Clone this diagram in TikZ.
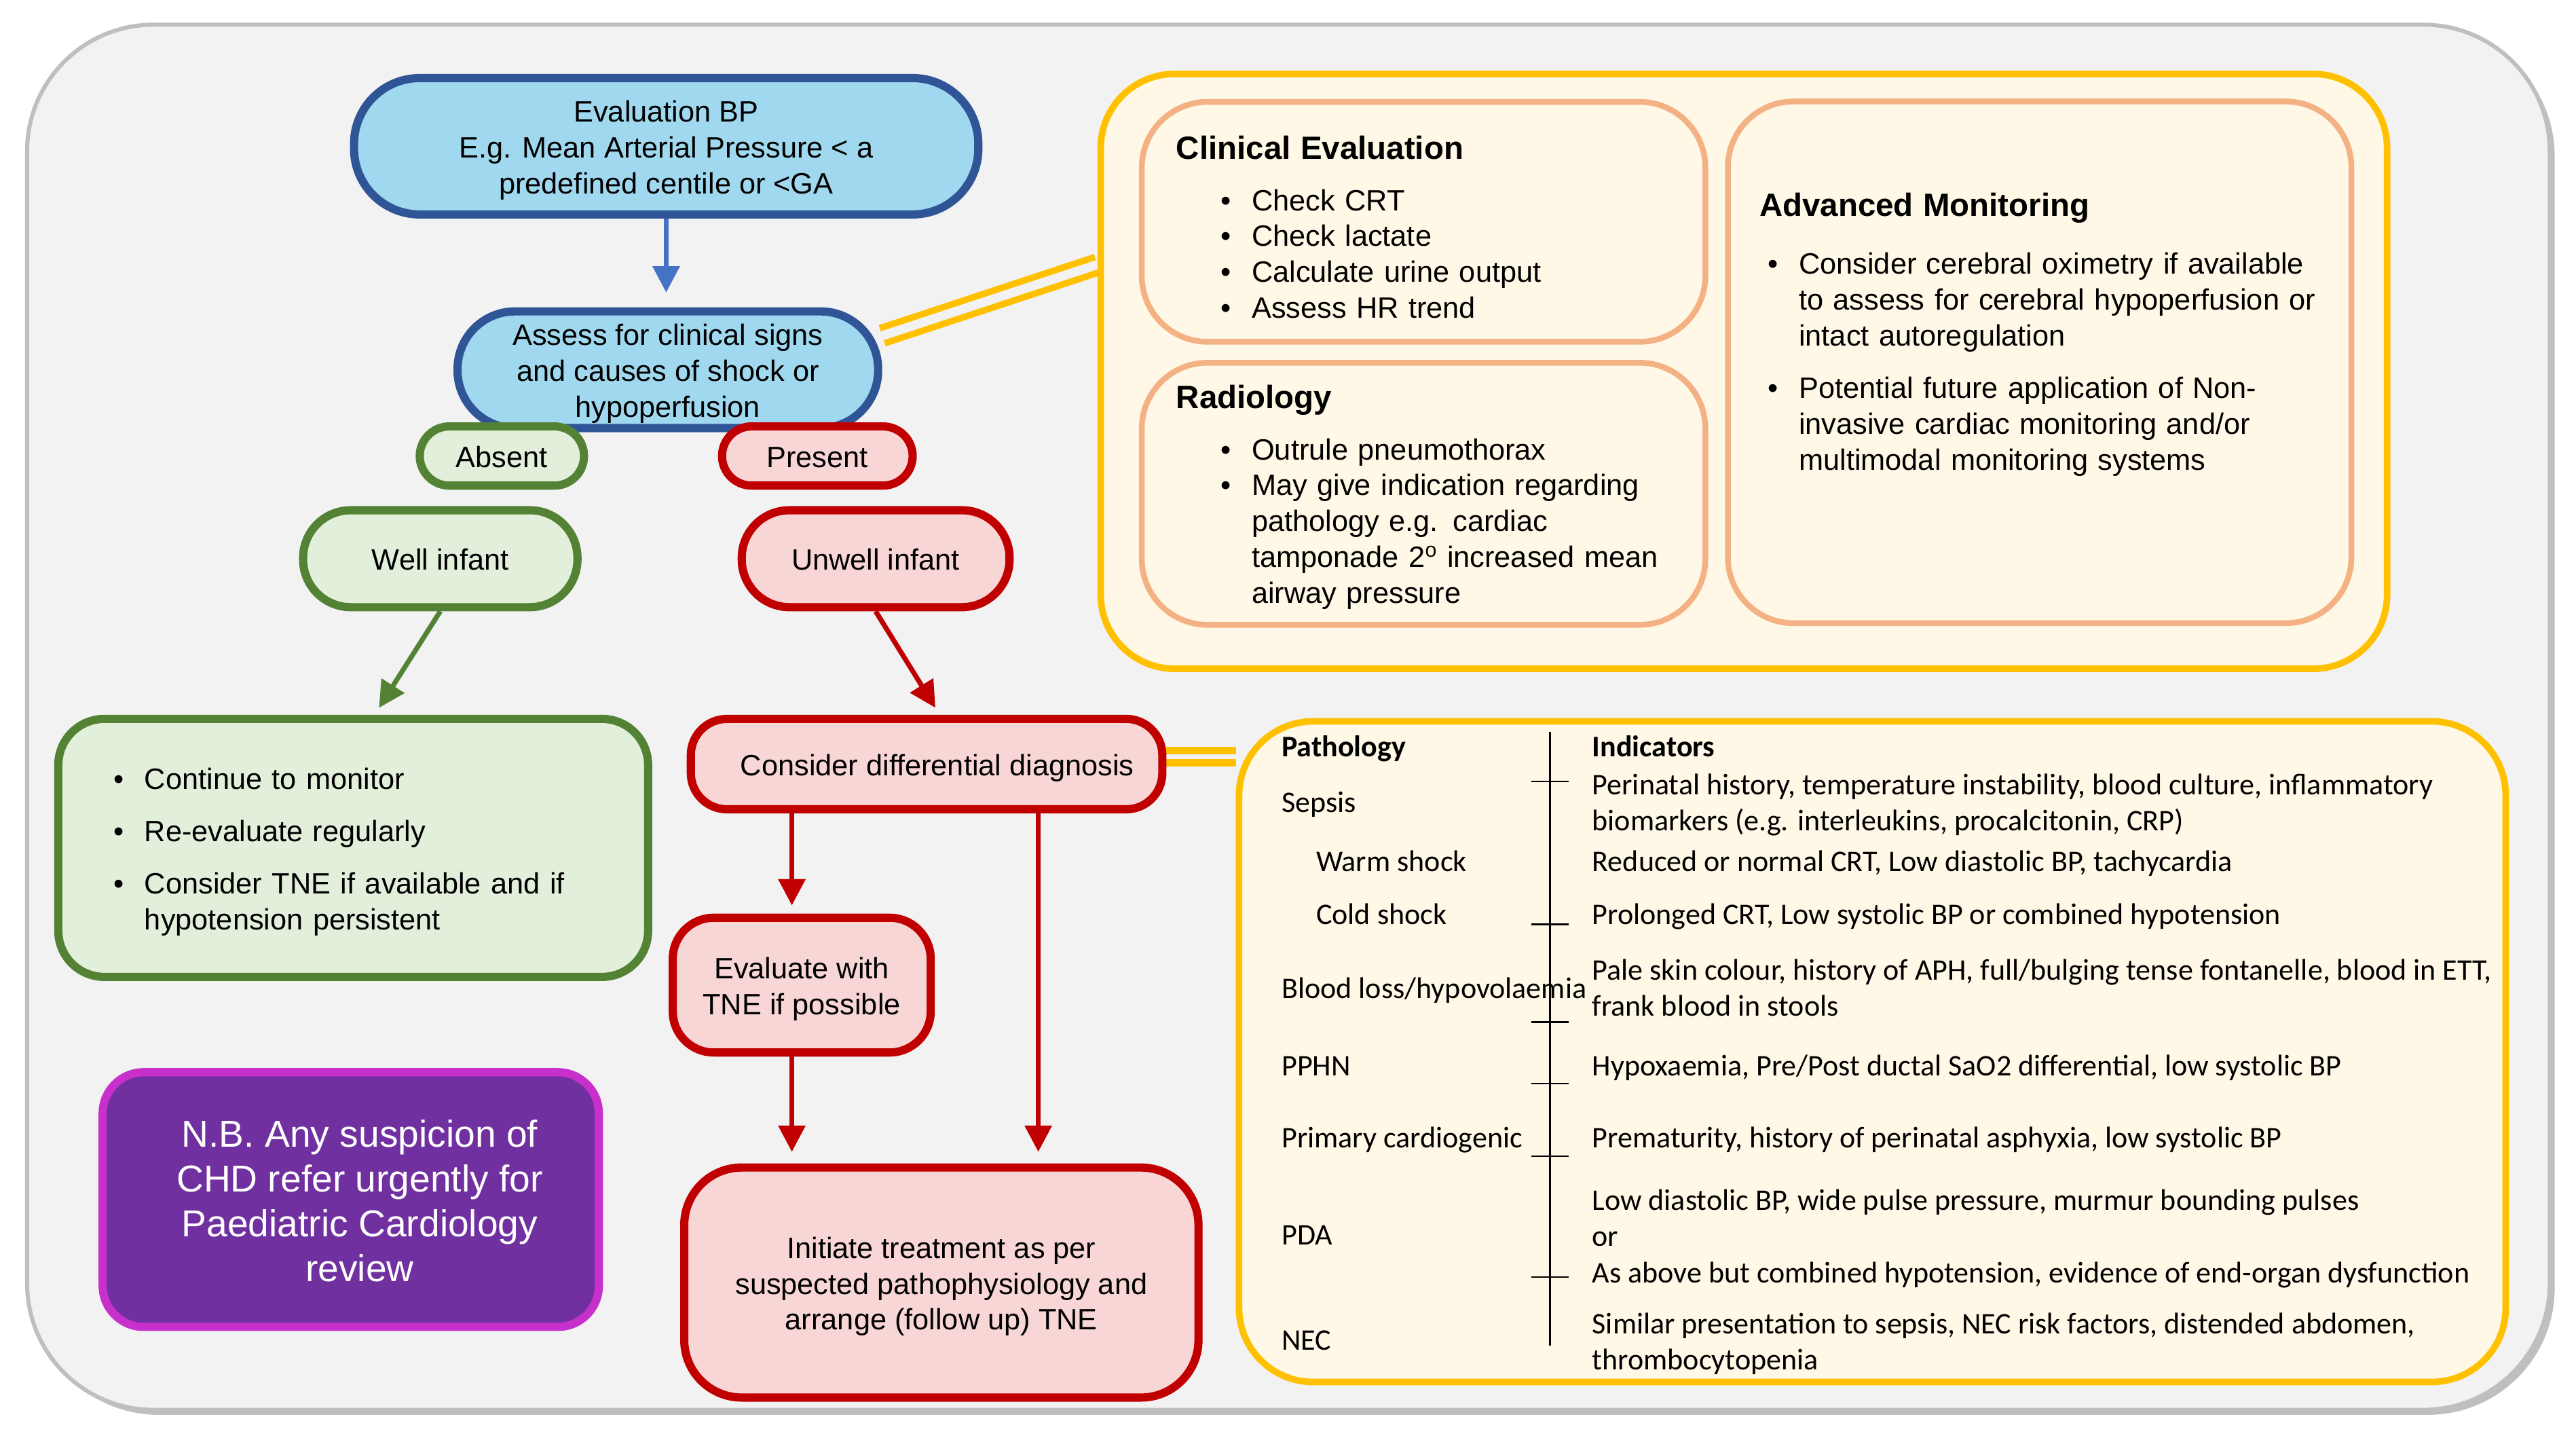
\documentclass[tikz,border=0pt]{standalone}
\usepackage{fontspec}
\setmainfont{Liberation Sans}
\newfontfamily\calfont{Carlito}
\usetikzlibrary{arrows.meta,calc}

\definecolor{bggray}{HTML}{F2F2F2}
\definecolor{edgegray}{HTML}{BFBFBF}
\definecolor{bluefill}{HTML}{A0D9EF}
\definecolor{blueline}{HTML}{2F5597}
\definecolor{bluearrow}{HTML}{4472C4}
\definecolor{greenfill}{HTML}{E2EFDA}
\definecolor{greenline}{HTML}{548235}
\definecolor{redfill}{HTML}{F9D6D6}
\definecolor{redline}{HTML}{C00000}
\definecolor{nbfill}{HTML}{7030A0}
\definecolor{nbline}{HTML}{C830CC}
\definecolor{gold}{HTML}{FFC000}
\definecolor{cream}{HTML}{FFF8E6}
\definecolor{peach}{HTML}{F4B183}

\pgfdeclarelayer{back}
\pgfdeclarelayer{links}
\pgfsetlayers{back,links,main}

\newcommand{\bitem}[2][0pt]{\par\noindent\hangindent=\dimexpr#1+19pt\relax\hangafter=1\hspace*{#1}\makebox[19pt][l]{\textbullet}#2\par}
\newcommand{\nl}{\hfil\break}
\newcommand{\tstrut}{\rule{0pt}{1em}}
\newcommand{\bstrut}{\rule[-0.212em]{0pt}{0.212em}}
\newcommand{\cellrows}[1]{\begin{tabular}[t]{@{}l@{}}#1\end{tabular}}

\begin{document}
\begin{tikzpicture}[x=1pt,y=-1pt,
    every node/.style={font=\fontsize{17.9}{21.8}\selectfont, inner sep=0pt},
    box/.style={draw, line width=5pt, align=center},
    startbox/.style={box, draw=blueline, fill=bluefill},
    goodbox/.style={box, draw=greenline, fill=greenfill},
    badbox/.style={box, draw=redline, fill=redfill},
    notebox/.style={box, draw=nbline, fill=nbfill, text=white, rounded corners=25pt, font=\fontsize{22.8}{27.3}\selectfont},
    panelbox/.style={draw=gold, line width=4pt, fill=cream, rounded corners=45pt},
    subbox/.style={draw=peach, line width=3.5pt, fill=cream, rounded corners=40pt, align=left},
    cell/.style={font=\calfont\fontsize{18.2}{22}\selectfont, anchor=base west},
    cellhead/.style={cell, font=\calfont\bfseries\fontsize{18.2}{22}\selectfont},
    flow/.style={line width=3pt, -{Triangle[length=16pt,width=16pt]}},
    link/.style={draw=gold, double=bggray, line width=4pt}]
  \useasboundingbox (0,0) rectangle (1568,876);
  \begin{pgfonlayer}{back}
    \fill[edgegray, rounded corners=77pt] (19.5,18) rectangle (1555,861);
    \draw[edgegray, fill=bggray, line width=2.5pt, rounded corners=77pt] (16.5,15) rectangle (1552,858);
  \end{pgfonlayer}

  % left flow
  \node[startbox, minimum width=380pt, minimum height=83pt, rounded corners=40pt] (eval) at (405.5,89) {\tstrut Evaluation BP\\E.g. Mean Arterial Pressure < a\\predefined centile or <GA\bstrut};
  \node[startbox, minimum width=256pt, minimum height=71pt, rounded corners=35pt] (assess) at (406.5,225) {\tstrut Assess for clinical signs\\and causes of shock or\\hypoperfusion\bstrut};
  \node[goodbox, minimum width=100pt, minimum height=36pt, rounded corners=18pt] (absent) at (305.5,277.5) {\tstrut Absent\bstrut};
  \node[badbox, minimum width=116pt, minimum height=36pt, rounded corners=18pt] (present) at (497.5,277.5) {\tstrut Present\bstrut};
  \node[goodbox, minimum width=167pt, minimum height=59pt, rounded corners=29pt] (well) at (268,340) {\tstrut Well infant\bstrut};
  \node[badbox, minimum width=163pt, minimum height=59pt, rounded corners=29pt] (unwell) at (533,340) {\tstrut Unwell infant\bstrut};
  \node[goodbox, minimum width=359pt, minimum height=157pt, rounded corners=28pt, text width=292pt, align=left] (monitor) at (215,516)
    {\vspace*{-4pt}\bitem{Continue to monitor}\vspace{10.2pt}\bitem{Re-evaluate regularly}\vspace{10.2pt}\bitem{Consider TNE if available and if\nl hypotension persistent}};
  \node[badbox, minimum width=287pt, minimum height=55pt, rounded corners=22pt] (diff) at (564,465) {\tstrut\hspace*{13pt}Consider differential diagnosis\bstrut};
  \node[badbox, minimum width=157pt, minimum height=82pt, rounded corners=25pt] (tne) at (488,599.5) {\tstrut Evaluate with\\TNE if possible\bstrut};
  \node[badbox, minimum width=313pt, minimum height=140pt, rounded corners=35pt] (treat) at (573,780.5) {\tstrut Initiate treatment as per\\suspected pathophysiology and\\arrange (follow up) TNE\bstrut};
  \node[notebox, minimum width=302pt, minimum height=155pt] (nb) at (213.5,730) {\tstrut\hspace*{11pt}N.B. Any suspicion of\\\hspace*{11pt}CHD refer urgently for\\\hspace*{11pt}Paediatric Cardiology\\\hspace*{11pt}review\bstrut};

  % evaluation panel
  \node[panelbox, minimum width=783pt, minimum height=362pt] (panel) at (1061.5,226) {};
  \node[subbox, minimum width=343pt, minimum height=146pt, text width=301pt] (clin) at (866.5,135)
    {{\fontsize{19.6}{23}\selectfont\bfseries Clinical Evaluation\par}\vspace{9.6pt}\bitem[27pt]{Check CRT}\bitem[27pt]{Check lactate}\bitem[27pt]{Calculate urine output}\bitem[27pt]{Assess HR trend}\vspace{-27.8pt}\hbox{}};
  \node[subbox, minimum width=343pt, minimum height=159.5pt, text width=301pt] (radio) at (866.5,300.5)
    {{\fontsize{19.6}{23}\selectfont\bfseries Radiology\par}\vspace{9.6pt}\bitem[27pt]{Outrule pneumothorax}\bitem[27pt]{May give indication regarding\nl pathology e.g. cardiac\nl tamponade 2\textsuperscript{o} increased mean\nl airway pressure}\vspace{-22pt}\hbox{}};
  \node[subbox, minimum width=379.5pt, minimum height=317.5pt, text width=341pt] (adv) at (1241.5,220.5)
    {{\fontsize{19.6}{23}\selectfont\bfseries Advanced Monitoring\par}\vspace{13.6pt}\bitem[5pt]{Consider cerebral oximetry if available\nl to assess for cerebral hypoperfusion or\nl intact autoregulation}\vspace{10.2pt}\bitem[5pt]{Potential future application of Non-\nl invasive cardiac monitoring and/or\nl multimodal monitoring systems}\vspace{16pt}\hbox{}};

  % differential table
  \node[panelbox, minimum width=771pt, minimum height=402pt] (table) at (1139.7,640) {};
  \node[cellhead] (pathhead) at (780,460.5) {Pathology};
  \node[cellhead] (indhead) at (969,460.5) {Indicators};
  \node[cell] (sepsis) at (780,494.5) {Sepsis};
  \node[cell] (warm) at (801,530.5) {Warm shock};
  \node[cell] (cold) at (801,562.5) {Cold shock};
  \node[cell] (bloodloss) at (780,607.5) {Blood loss/hypovolaemia};
  \node[cell] (pphn) at (780,654.5) {PPHN};
  \node[cell] (cardio) at (780,698.5) {Primary cardiogenic};
  \node[cell] (pda) at (780,757.5) {PDA};
  \node[cell] (nec) at (780,821.5) {NEC};
  \node[cell] (sepsisind) at (969,483.5) {\cellrows{Perinatal history, temperature instability, blood culture, inflammatory\\biomarkers (e.g. interleukins, procalcitonin, CRP)}};
  \node[cell] (warmind) at (969,530.5) {Reduced or normal CRT, Low diastolic BP, tachycardia};
  \node[cell] (coldind) at (969,562.5) {Prolonged CRT, Low systolic BP or combined hypotension};
  \node[cell] (bloodind) at (969,596.5) {\cellrows{Pale skin colour, history of APH, full/bulging tense fontanelle, blood in ETT,\\frank blood in stools}};
  \node[cell] (pphnind) at (969,654.5) {Hypoxaemia, Pre/Post ductal SaO2 differential, low systolic BP};
  \node[cell] (cardioind) at (969,698.5) {Prematurity, history of perinatal asphyxia, low systolic BP};
  \node[cell] (pdaind) at (969,736.5) {\cellrows{Low diastolic BP, wide pulse pressure, murmur bounding pulses\\or\\As above but combined hypotension, evidence of end-organ dysfunction}};
  \node[cell] (necind) at (969,811.5) {\cellrows{Similar presentation to sepsis, NEC risk factors, distended abdomen,\\thrombocytopenia}};
  \draw[line width=0.9pt] (943.5,445.5) -- (943.5,819);
  \foreach \y in {475.5,562.5,622,659.5,703.5,777}
    \draw[line width=0.9pt] (932,\y) -- (955,\y);

  % connectors
  \begin{pgfonlayer}{links}
    \draw[link, double distance=5.6pt] (assess.9) -- ($(panel.west)+(0,-65)$);
    \draw[link, line width=4.6pt, double distance=3pt] ([yshift=4.6pt]diff.east) -- ([yshift=4.6pt]diff.east -| table.west);
  \end{pgfonlayer}
  \draw[flow, bluearrow, shorten >=9pt] (eval.south) -- (eval.south |- assess.north);
  \draw[flow, greenline, shorten >=5pt] (well.south) -- ([xshift=13pt]monitor.north);
  \draw[flow, redline, shorten >=5pt] (unwell.south) -- ([xshift=8pt]diff.north);
  \draw[flow, redline, shorten >=5pt] ([xshift=-82pt]diff.south) -- ([xshift=-82pt]diff.south |- tne.north);
  \draw[flow, redline, shorten >=7pt] ([xshift=-6pt]tne.south) -- ([xshift=-6pt]tne.south |- treat.north);
  \draw[flow, redline, shorten >=7pt] ([xshift=68pt]diff.south) -- ([xshift=68pt]diff.south |- treat.north);
\end{tikzpicture}
\end{document}
